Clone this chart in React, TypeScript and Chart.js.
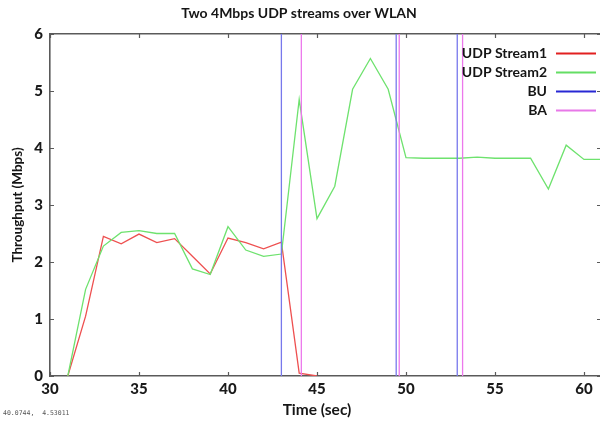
import React, { useEffect, useRef } from "react";
import { Chart, registerables } from "chart.js";
Chart.register(...registerables);

const chartTitle = "Two 4Mbps UDP streams over WLAN";
const xAxisTitle = "Time (sec)";
const yAxisTitle = "Throughput (Mbps)";
const coordText = "40.0744,  4.53011";

const stream1Times = [31, 32, 33, 34, 35, 36, 37, 38, 39, 40, 41, 42, 43, 44, 45];
const stream1Values = [0, 1.05, 2.45, 2.32, 2.49, 2.34, 2.41, 2.1, 1.79, 2.42, 2.34, 2.23, 2.35, 0.05, 0];

const stream2Times = [31, 32, 33, 34, 35, 36, 37, 38, 39, 40, 41, 42, 43, 44, 45, 46, 47, 48, 49, 50, 51, 52, 53, 54, 55, 56, 57, 58, 59, 60, 61];
const stream2Values = [0, 1.52, 2.28, 2.52, 2.55, 2.5, 2.5, 1.88, 1.78, 2.62, 2.21, 2.1, 2.14, 4.85, 2.76, 3.33, 5.03, 5.57, 5.03, 3.83, 3.82, 3.82, 3.82, 3.84, 3.82, 3.82, 3.82, 3.28, 4.05, 3.8, 3.8];

const buTimes = [43.0, 49.45, 52.88];
const baTimes = [44.12, 49.62, 53.18];

const xTicks = [30, 35, 40, 45, 50, 55, 60];
const yTicks = [0, 1, 2, 3, 4, 5, 6];
const xRange = [30, 60.9];
const yRange = [0, 6];

const legendLabels = ["UDP Stream1", "UDP Stream2", "BU", "BA"];

const red = "rgb(238,80,80)";
const green = "rgb(110,226,110)";
const blue = "rgb(120,120,236)";
const magenta = "rgb(236,120,236)";
const legendColors = ["rgb(226,32,32)", "rgb(100,222,100)", "rgb(40,40,212)", "rgb(232,120,232)"];
const axisColor = "#5a5a5a";
const FONT = "Lato, 'Open Sans', sans-serif";

const overlay = {
  id: "overlay",
  afterDraw(chart: any) {
    const { ctx, chartArea: a, scales } = chart;
    const xs = scales.x;
    const ys = scales.y;
    ctx.save();
    // inward tick marks
    ctx.strokeStyle = axisColor;
    ctx.lineWidth = 1.2;
    ctx.beginPath();
    xTicks.forEach((v) => {
      const px = Math.round(xs.getPixelForValue(v)) + 0.5;
      ctx.moveTo(px, a.bottom);
      ctx.lineTo(px, a.bottom - 4);
      ctx.moveTo(px, a.top);
      ctx.lineTo(px, a.top + 4);
    });
    yTicks.forEach((v) => {
      const py = Math.round(ys.getPixelForValue(v)) + 0.5;
      ctx.moveTo(a.left, py);
      ctx.lineTo(a.left + 4, py);
      ctx.moveTo(a.right + 1, py);
      ctx.lineTo(a.right - 3, py);
    });
    ctx.stroke();

    ctx.fillStyle = "#151515";
    ctx.textAlign = "center";
    ctx.textBaseline = "middle";
    ctx.font = "bold 14px " + FONT;
    ctx.fillText(chartTitle, 299, 13);

    ctx.font = "bold 15.5px " + FONT;
    ctx.fillText(xAxisTitle, 317, 410);

    ctx.save();
    ctx.translate(18, (a.top + a.bottom) / 2);
    ctx.rotate(-Math.PI / 2);
    ctx.font = "bold 13.5px " + FONT;
    ctx.fillText(yAxisTitle, 0, 0);
    ctx.restore();

    // legend
    ctx.textAlign = "right";
    ctx.font = "bold 14px " + FONT;
    legendLabels.forEach((label, i) => {
      const cy = 53 + i * 19;
      ctx.fillStyle = "#151515";
      ctx.fillText(label, 547, cy);
      ctx.strokeStyle = legendColors[i];
      ctx.lineWidth = 1.8;
      ctx.beginPath();
      ctx.moveTo(556, cy + 0.5);
      ctx.lineTo(596, cy + 0.5);
      ctx.stroke();
    });

    ctx.textAlign = "left";
    ctx.fillStyle = "#555";
    ctx.font = "6.5px 'DejaVu Sans Mono', monospace";
    ctx.fillText(coordText, 3, 413);
    ctx.restore();
  },
};

export default function App() {
  const ref = useRef<HTMLCanvasElement>(null);
  useEffect(() => {
    if (!ref.current) return;
    const vertical = (times: number[], color: string, order: number, name: string) =>
      times.map((t) => ({
        label: name,
        data: [
          { x: t, y: yRange[0] },
          { x: t, y: yRange[1] },
        ],
        borderColor: color,
        borderWidth: 1.3,
        pointRadius: 0,
        order,
      }));
    const chart = new Chart(ref.current, {
      type: "line",
      data: {
        datasets: [
          {
            label: legendLabels[0],
            data: stream1Times.map((t, i) => ({ x: t, y: stream1Values[i] })),
            borderColor: red,
            borderWidth: 1.3,
            pointRadius: 0,
            tension: 0,
            order: 3,
          },
          {
            label: legendLabels[1],
            data: stream2Times.map((t, i) => ({ x: t, y: stream2Values[i] })),
            borderColor: green,
            borderWidth: 1.3,
            pointRadius: 0,
            tension: 0,
            order: 2,
          },
          ...vertical(buTimes, blue, 1, legendLabels[2]),
          ...vertical(baTimes, magenta, 0, legendLabels[3]),
        ] as any,
      },
      options: {
        animation: false,
        responsive: false,
        layout: { padding: { top: 34, left: 0, right: 0, bottom: 0 } },
        plugins: { legend: { display: false }, tooltip: { enabled: false }, title: { display: false } },
        scales: {
          x: {
            type: "linear",
            position: "bottom",
            min: xRange[0],
            max: xRange[1],
            afterBuildTicks: (s: any) => {
              s.ticks = xTicks.map((value) => ({ value }));
            },
            afterFit: (s: any) => {
              s.height = 47;
            },
            grid: { display: false, drawTicks: false },
            border: { display: true, color: axisColor, width: 1.6 },
            ticks: {
              color: "#1a1a1a",
              font: { family: FONT, size: 15, weight: "900" },
              padding: 4,
              maxRotation: 0,
              autoSkip: false,
            },
          },
          x2: {
            type: "linear",
            position: "top",
            min: xRange[0],
            max: xRange[1],
            afterFit: (s: any) => {
              s.height = 0;
            },
            grid: { display: false, drawTicks: false },
            border: { display: true, color: axisColor, width: 1.6 },
            ticks: { display: false },
          },
          y: {
            type: "linear",
            min: yRange[0],
            max: yRange[1],
            afterBuildTicks: (s: any) => {
              s.ticks = yTicks.map((value) => ({ value }));
            },
            afterFit: (s: any) => {
              s.width = 50;
            },
            grid: { display: false, drawTicks: false },
            border: { display: true, color: axisColor, width: 1.6 },
            ticks: {
              color: "#1a1a1a",
              font: { family: FONT, size: 15, weight: "900" },
              padding: 7,
            },
          },
        },
      } as any,
      plugins: [overlay],
    });
    return () => chart.destroy();
  }, []);
  return (
    <div style={{ position: "absolute", left: 0, top: 0, width: 600, height: 423, background: "#fff" }}>
      <canvas ref={ref} width={600} height={423} style={{ display: "block" }} />
    </div>
  );
}
